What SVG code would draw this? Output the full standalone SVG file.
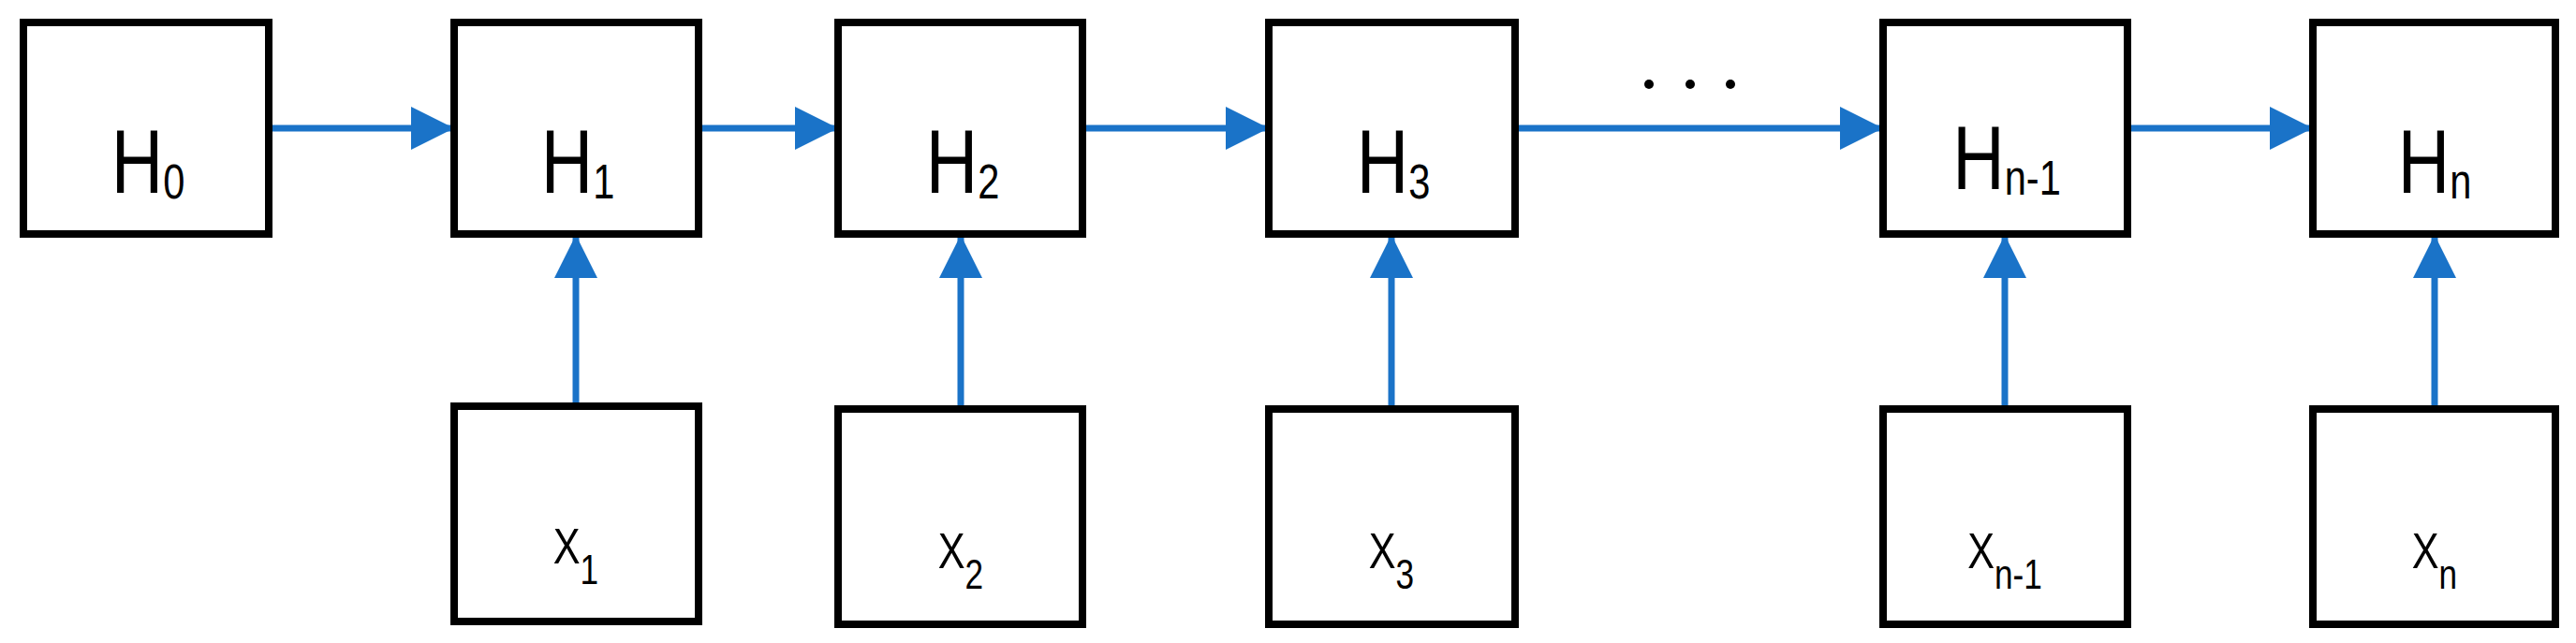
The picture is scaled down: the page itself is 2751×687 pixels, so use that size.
<svg xmlns="http://www.w3.org/2000/svg" width="2751" height="687" viewBox="0 0 2751 687">
<style>
.box{fill:#fff;stroke:#000;stroke-width:8}
.lb{font-family:"Liberation Sans",Arial,sans-serif;fill:#000;text-anchor:middle}
.h{font-size:96px}.hs{font-size:52px}
.x{font-size:54px}.xs{font-size:44px}
.c{stroke:#1a73c8;stroke-width:7;fill:none}
.dot{fill:#000}
</style>
<defs>
<marker id="ah" markerUnits="userSpaceOnUse" markerWidth="46" markerHeight="46" refX="46" refY="23" orient="auto" viewBox="0 0 46 46"><path d="M0,0L46,23L0,46Z" fill="#1a73c8"/></marker>
</defs>
<rect width="2751" height="687" fill="#fff"/>
<g id="connectors">
<line class="c" x1="287" y1="137" x2="485" y2="137" marker-end="url(#ah)"/>
<line class="c" x1="746" y1="137" x2="895" y2="137" marker-end="url(#ah)"/>
<line class="c" x1="1156" y1="137" x2="1355" y2="137" marker-end="url(#ah)"/>
<line class="c" x1="1618" y1="137" x2="2011" y2="137" marker-end="url(#ah)"/>
<line class="c" x1="2272" y1="137" x2="2470" y2="137" marker-end="url(#ah)"/>
<line class="c" x1="615" y1="434" x2="615" y2="251" marker-end="url(#ah)"/>
<line class="c" x1="1026" y1="437" x2="1026" y2="251" marker-end="url(#ah)"/>
<line class="c" x1="1486" y1="437" x2="1486" y2="251" marker-end="url(#ah)"/>
<line class="c" x1="2141" y1="437" x2="2141" y2="251" marker-end="url(#ah)"/>
<line class="c" x1="2600" y1="437" x2="2600" y2="251" marker-end="url(#ah)"/>
</g>
<g id="ellipsis"><circle class="dot" cx="1761" cy="90" r="5"/><circle class="dot" cx="1805" cy="90" r="5"/><circle class="dot" cx="1848" cy="90" r="5"/></g>
<g id="H0"><rect class="box" x="25" y="24" width="262" height="226"/><text class="lb" transform="translate(158,206) scale(0.8,1)"><tspan class="h">H</tspan><tspan class="hs" dy="6">0</tspan></text></g>
<g id="H1"><rect class="box" x="485" y="24" width="261" height="226"/><text class="lb" transform="translate(617,206) scale(0.8,1)"><tspan class="h">H</tspan><tspan class="hs" dy="6">1</tspan></text></g>
<g id="H2"><rect class="box" x="895" y="24" width="261" height="226"/><text class="lb" transform="translate(1028,206) scale(0.8,1)"><tspan class="h">H</tspan><tspan class="hs" dy="6">2</tspan></text></g>
<g id="H3"><rect class="box" x="1355" y="24" width="263" height="226"/><text class="lb" transform="translate(1488,206) scale(0.8,1)"><tspan class="h">H</tspan><tspan class="hs" dy="6">3</tspan></text></g>
<g id="Hn-1"><rect class="box" x="2011" y="24" width="261" height="226"/><text class="lb" transform="translate(2143,202) scale(0.8,1)"><tspan class="h">H</tspan><tspan class="hs" dy="6">n-1</tspan></text></g>
<g id="Hn"><rect class="box" x="2470" y="24" width="259" height="226"/><text class="lb" transform="translate(2600,206) scale(0.8,1)"><tspan class="h">H</tspan><tspan class="hs" dy="6">n</tspan></text></g>
<g id="X1"><rect class="box" x="485" y="434" width="261" height="230"/><text class="lb" transform="translate(615,602) scale(0.8,1)"><tspan class="x">X</tspan><tspan class="xs" dy="22">1</tspan></text></g>
<g id="X2"><rect class="box" x="895" y="437" width="261" height="230"/><text class="lb" transform="translate(1026,607) scale(0.8,1)"><tspan class="x">X</tspan><tspan class="xs" dy="22">2</tspan></text></g>
<g id="X3"><rect class="box" x="1355" y="437" width="263" height="230"/><text class="lb" transform="translate(1486,607) scale(0.8,1)"><tspan class="x">X</tspan><tspan class="xs" dy="22">3</tspan></text></g>
<g id="Xn-1"><rect class="box" x="2011" y="437" width="261" height="230"/><text class="lb" transform="translate(2141,607) scale(0.8,1)"><tspan class="x">X</tspan><tspan class="xs" dy="22">n-1</tspan></text></g>
<g id="Xn"><rect class="box" x="2470" y="437" width="259" height="230"/><text class="lb" transform="translate(2600,607) scale(0.8,1)"><tspan class="x">X</tspan><tspan class="xs" dy="22">n</tspan></text></g>
</svg>
